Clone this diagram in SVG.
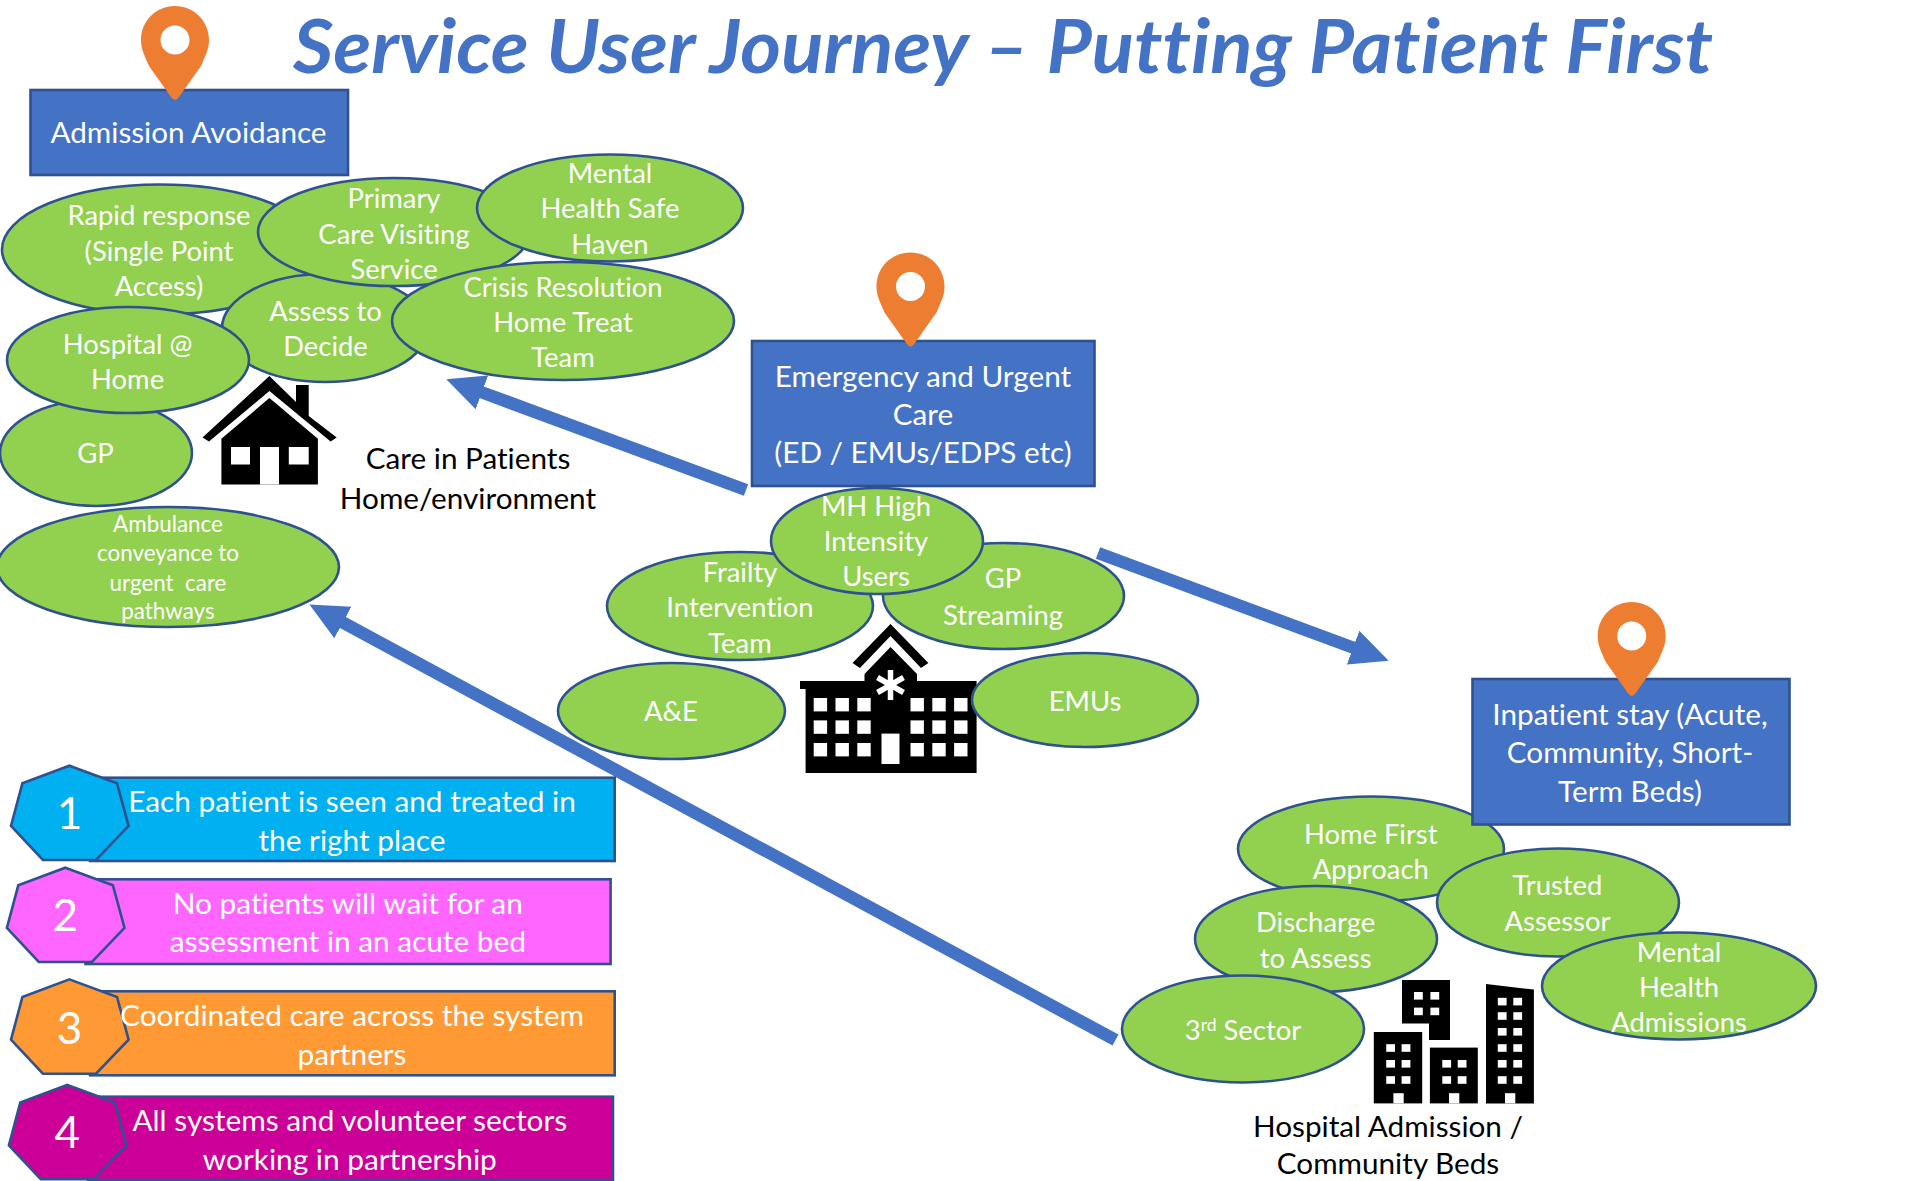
<svg xmlns="http://www.w3.org/2000/svg" xmlns:xlink="http://www.w3.org/1999/xlink" width="1907" height="1181" viewBox="0 0 1907 1181">
<style>
text{font-family:Lato,"Liberation Sans",sans-serif;text-anchor:middle;fill:#fff;font-variant-ligatures:none}
.e{fill:#92D050;stroke:#2F528F;stroke-width:2.6}
.t{font-size:27.4px}
.box{fill:#4472C4;stroke:#2F528F;stroke-width:2.6}
.b{font-size:29.7px}
.k{fill:#000;font-size:29.7px}
.l{font-size:29.8px}
.n{font-size:44px}
.hx{stroke:#2F528F;stroke-width:2.6}
.pin{fill:#ED7D31}
.w{fill:#fff}
.ar{fill:none;stroke:#4472C4;stroke-width:12.5;marker-end:url(#head)}
.title{fill:#4472C4;font-size:74px;font-weight:700;font-style:italic}
</style>
<defs>
<marker id="head" markerUnits="userSpaceOnUse" markerWidth="40" markerHeight="38" viewBox="0 0 40 38" refX="1" refY="19" orient="auto"><polygon points="0,1 38,19 0,37" fill="#4472C4"/></marker>
<path id="pin" class="pin" d="M0,-94 C19,-94 34,-79 34,-60 C34,-50 30,-44 26,-34 L4,-3 Q0,3 -4,-3 L-26,-34 C-30,-44 -34,-50 -34,-60 C-34,-79 -19,-94 0,-94 Z M0,-74.5 A14.5,14.5 0 1 0 0,-45.5 A14.5,14.5 0 1 0 0,-74.5 Z" fill-rule="evenodd"/>
<polygon id="hept" points="0,0 47.6,17.6 59.2,60.3 26.6,94.3 -26.5,94.3 -58.4,60.3 -47,17.6"/>
</defs>
<text class="title" x="1003" y="73" textLength="1420" lengthAdjust="spacingAndGlyphs">Service User Journey – Putting Patient First</text>

<g id="connectors">
<line class="ar" x1="746" y1="490" x2="481" y2="392"/>
<line class="ar" x1="1098" y1="553" x2="1354" y2="648"/>
<line class="ar" x1="1115.5" y1="1040" x2="342" y2="622"/>
</g>

<g id="stage-admission-avoidance">
<rect class="box" x="30.5" y="90" width="317.5" height="85"/>
<use xlink:href="#pin" href="#pin" x="175" y="100"/>
<text class="b" x="188.5" y="143">Admission Avoidance</text>
</g>
<g id="node-gp"><ellipse class="e" cx="96" cy="453" rx="96" ry="53"/><text class="t" x="95.4" y="463">GP</text></g>
<g id="node-rapid"><ellipse class="e" cx="160" cy="249.5" rx="158" ry="65"/><text class="t" x="159" y="225">Rapid response</text><text class="t" x="159" y="260.5">(Single Point</text><text class="t" x="159" y="295.5">Access)</text></g>
<g id="node-assess"><ellipse class="e" cx="325" cy="328" rx="103" ry="54"/><text class="t" x="325.5" y="320.5">Assess to</text><text class="t" x="325.5" y="355.5">Decide</text></g>
<g id="node-primary"><ellipse class="e" cx="394" cy="232" rx="136" ry="54"/><text class="t" x="394" y="207.5">Primary</text><text class="t" x="394" y="244">Care Visiting</text><text class="t" x="394" y="278.5">Service</text></g>
<g id="node-mental-safe"><ellipse class="e" cx="610" cy="208" rx="133" ry="53.5"/><text class="t" x="610" y="183">Mental</text><text class="t" x="610" y="218">Health Safe</text><text class="t" x="610" y="253.5">Haven</text></g>
<g id="node-crisis"><ellipse class="e" cx="563" cy="321" rx="171" ry="59"/><text class="t" x="563" y="296.5">Crisis Resolution</text><text class="t" x="563" y="331.5">Home Treat</text><text class="t" x="563" y="366.5">Team</text></g>
<g id="node-hospital-home"><ellipse class="e" cx="128" cy="360" rx="121" ry="53"/><text class="t" x="127.6" y="353.5">Hospital @</text><text class="t" x="127.6" y="388.5">Home</text></g>
<g id="node-ambulance"><ellipse class="e" cx="168" cy="567" rx="171" ry="60"/><g style="font-size:22.4px"><text x="168" y="532">Ambulance</text><text x="168" y="561">conveyance to</text><text x="168" y="590.6" xml:space="preserve">urgent  care</text><text x="168" y="619">pathways</text></g></g>

<g id="icon-house">
<polygon points="269.4,376 296,402 296,385 308.7,385 308.7,416 336.7,437.6 330.6,441.6 269.4,391 209,441.6 202.5,437.6"/>
<polygon points="269.4,398 317.9,438.8 317.9,484.5 221.4,484.5 221.4,438.8"/>
<rect class="w" x="231" y="447" width="19" height="17.5"/><rect class="w" x="288.8" y="447" width="19.9" height="17.5"/><rect class="w" x="260" y="447" width="19" height="37.5"/>
</g>
<text class="k" x="468" y="469">Care in Patients</text>
<text class="k" x="468" y="508.5">Home/environment</text>

<g id="stage-emergency">
<rect class="box" x="752" y="341" width="342.5" height="145"/>
<use xlink:href="#pin" href="#pin" x="910.5" y="346.5"/>
<text class="b" x="923" y="386.5">Emergency and Urgent</text><text class="b" x="923" y="424.5">Care</text><text class="b" x="923" y="463">(ED / EMUs/EDPS etc)</text>
</g>
<g id="node-gp-streaming"><ellipse class="e" cx="1003.5" cy="596" rx="120.5" ry="53"/><text class="t" x="1003" y="588">GP</text><text class="t" x="1003" y="624.5">Streaming</text></g>
<g id="node-frailty"><ellipse class="e" cx="740" cy="606" rx="133" ry="54"/><text class="t" x="740" y="581.5">Frailty</text><text class="t" x="740" y="616.5">Intervention</text><text class="t" x="740" y="652.5">Team</text></g>
<g id="node-mh-high"><ellipse class="e" cx="877" cy="541" rx="106" ry="53"/><text class="t" x="876" y="516">MH High</text><text class="t" x="876" y="551">Intensity</text><text class="t" x="876" y="586">Users</text></g>
<g id="node-ae"><ellipse class="e" cx="671.5" cy="711" rx="113.5" ry="48"/><text class="t" x="671" y="721">A&amp;E</text></g>

<g id="icon-hospital">
<polygon points="890.5,624 928.4,663 921,668 890.5,636 860,668 852.5,663"/>
<polygon points="890.5,647 917,674 917,681 976.6,681 976.6,773 805.6,773 805.6,689 800,689 800,681 864.5,681 864.5,674"/>
<g class="w">
<rect x="813.7" y="698" width="13.4" height="13.4"/><rect x="835.5" y="698" width="13.4" height="13.4"/><rect x="857.3" y="698" width="13.4" height="13.4"/><rect x="910.5" y="698" width="13.4" height="13.4"/><rect x="932.3" y="698" width="13.4" height="13.4"/><rect x="954.1" y="698" width="13.4" height="13.4"/>
<rect x="813.7" y="720.4" width="13.4" height="13.4"/><rect x="835.5" y="720.4" width="13.4" height="13.4"/><rect x="857.3" y="720.4" width="13.4" height="13.4"/><rect x="910.5" y="720.4" width="13.4" height="13.4"/><rect x="932.3" y="720.4" width="13.4" height="13.4"/><rect x="954.1" y="720.4" width="13.4" height="13.4"/>
<rect x="813.7" y="743" width="13.4" height="13.4"/><rect x="835.5" y="743" width="13.4" height="13.4"/><rect x="857.3" y="743" width="13.4" height="13.4"/><rect x="910.5" y="743" width="13.4" height="13.4"/><rect x="932.3" y="743" width="13.4" height="13.4"/><rect x="954.1" y="743" width="13.4" height="13.4"/>
<rect x="881.5" y="733.6" width="18" height="30.4"/>
</g>
<path d="M890.5,670V700M877.5,677.5L903.5,692.5M903.5,677.5L877.5,692.5" stroke="#fff" stroke-width="5.5" fill="none"/>
</g>
<g id="node-emus"><ellipse class="e" cx="1085" cy="700" rx="113" ry="47"/><text class="t" x="1085" y="710.5">EMUs</text></g>

<g id="node-home-first"><ellipse class="e" cx="1371" cy="849" rx="133" ry="52.5"/><text class="t" x="1370.7" y="843.5">Home First</text><text class="t" x="1370.7" y="878.5">Approach</text></g>
<g id="stage-inpatient">
<rect class="box" x="1472.5" y="679" width="317" height="145.5"/>
<use xlink:href="#pin" href="#pin" x="1631.7" y="696"/>
<text class="b" x="1630" y="724.5">Inpatient stay (Acute,</text><text class="b" x="1630" y="763">Community, Short-</text><text class="b" x="1630" y="801.5">Term Beds)</text>
</g>
<g id="node-trusted"><ellipse class="e" cx="1558" cy="902.5" rx="121" ry="54"/><text class="t" x="1557.5" y="895">Trusted</text><text class="t" x="1557.5" y="930.5">Assessor</text></g>
<g id="node-discharge"><ellipse class="e" cx="1316" cy="939" rx="121" ry="53"/><text class="t" x="1315.6" y="931.5">Discharge</text><text class="t" x="1315.6" y="967.5">to Assess</text></g>
<g id="node-mh-adm"><ellipse class="e" cx="1679" cy="986" rx="137" ry="53.5"/><text class="t" x="1679" y="961.5">Mental</text><text class="t" x="1679" y="996.5">Health</text><text class="t" x="1679" y="1031.5">Admissions</text></g>
<g id="node-third"><ellipse class="e" cx="1243" cy="1029" rx="121" ry="53.5"/><text class="t" x="1243" y="1039.5">3<tspan dy="-9" style="font-size:17.5px">rd</tspan><tspan dy="9"> Sector</tspan></text></g>

<g id="icon-buildings">
<polygon points="1402,980 1450,980 1450,1040 1429,1040 1429,1023.5 1402,1023.5"/>
<rect x="1373.8" y="1032" width="48.4" height="71.4"/>
<rect x="1429.9" y="1047.6" width="47.9" height="55.8"/>
<polygon points="1486,983.9 1533.9,989.6 1533.9,1103.4 1486,1103.4"/>
<g class="w">
<rect x="1414" y="992" width="8.8" height="7.6"/><rect x="1430.4" y="992" width="8.8" height="7.6"/><rect x="1414" y="1007.6" width="8.8" height="7.6"/><rect x="1430.4" y="1007.6" width="8.8" height="7.6"/>
<rect x="1386.2" y="1044.2" width="8.8" height="7.6"/><rect x="1401.6" y="1044.2" width="8.8" height="7.6"/><rect x="1386.2" y="1060" width="8.8" height="7.6"/><rect x="1401.6" y="1060" width="8.8" height="7.6"/><rect x="1386.2" y="1076.2" width="8.8" height="7.6"/><rect x="1401.6" y="1076.2" width="8.8" height="7.6"/><rect x="1393.4" y="1093.2" width="10.3" height="10.2"/>
<rect x="1442.3" y="1060" width="8.8" height="7.6"/><rect x="1457.7" y="1060" width="8.8" height="7.6"/><rect x="1442.3" y="1076.2" width="8.8" height="7.6"/><rect x="1457.7" y="1076.2" width="8.8" height="7.6"/><rect x="1449" y="1093.2" width="10.3" height="10.2"/>
<rect x="1497.8" y="997.8" width="8.8" height="7.6"/><rect x="1513.3" y="997.8" width="8.8" height="7.6"/><rect x="1497.8" y="1012.2" width="8.8" height="7.6"/><rect x="1513.3" y="1012.2" width="8.8" height="7.6"/><rect x="1497.8" y="1028" width="8.8" height="7.6"/><rect x="1513.3" y="1028" width="8.8" height="7.6"/><rect x="1497.8" y="1044.2" width="8.8" height="7.6"/><rect x="1513.3" y="1044.2" width="8.8" height="7.6"/><rect x="1497.8" y="1060" width="8.8" height="7.6"/><rect x="1513.3" y="1060" width="8.8" height="7.6"/><rect x="1497.8" y="1076.2" width="8.8" height="7.6"/><rect x="1513.3" y="1076.2" width="8.8" height="7.6"/><rect x="1505" y="1093.2" width="10.3" height="10.2"/>
</g>
</g>
<text class="k" x="1388" y="1136.5">Hospital Admission /</text>
<text class="k" x="1388" y="1174">Community Beds</text>

<g id="goal-1">
<rect class="box" style="fill:#00B0F0" x="90" y="777.7" width="524.7" height="83.3"/>
<use xlink:href="#hept" href="#hept" class="hx" fill="#00B0F0" x="69.4" y="765.7"/>
<text class="n" x="69.4" y="829">1</text>
<text class="l" x="352" y="811.5">Each patient is seen and treated in</text><text class="l" x="352" y="850.5">the right place</text>
</g>
<g id="goal-2">
<rect class="box" style="fill:#FF66FF" x="85.5" y="879.3" width="525.1" height="84.7"/>
<use xlink:href="#hept" href="#hept" class="hx" fill="#FF66FF" x="65.3" y="867.7"/>
<text class="n" x="65.3" y="931">2</text>
<text class="l" x="347.8" y="913.5">No patients will wait for an</text><text class="l" x="347.8" y="952">assessment in an acute bed</text>
</g>
<g id="goal-3">
<rect class="box" style="fill:#FF9933" x="90" y="991.3" width="524.7" height="84"/>
<use xlink:href="#hept" href="#hept" class="hx" fill="#FF9933" x="69.4" y="979.4"/>
<text class="n" x="69.4" y="1043.5">3</text>
<text class="l" x="352" y="1025.5">Coordinated care across the system</text><text class="l" x="352" y="1064.5">partners</text>
</g>
<g id="goal-4">
<rect class="box" style="fill:#CC0099" x="88" y="1096.7" width="525" height="83.3"/>
<use xlink:href="#hept" href="#hept" class="hx" fill="#CC0099" x="67.3" y="1085"/>
<text class="n" x="67.3" y="1148">4</text>
<text class="l" x="349.8" y="1130.5">All systems and volunteer sectors</text><text class="l" x="349.8" y="1169.5">working in partnership</text>
</g>
</svg>
